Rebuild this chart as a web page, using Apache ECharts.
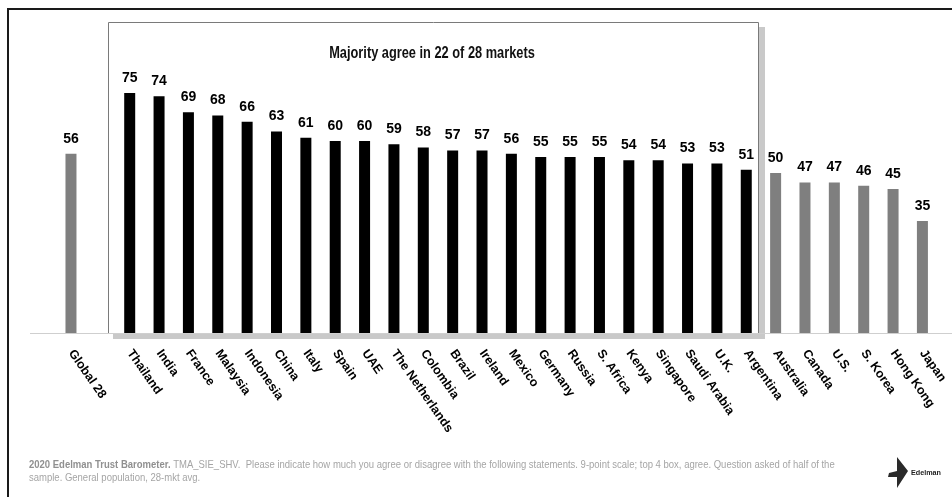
<!DOCTYPE html>
<html><head><meta charset="utf-8">
<script src="https://cdn.jsdelivr.net/npm/echarts@6/dist/echarts.min.js"></script>
<style>html,body{margin:0;padding:0;background:#fff}#c{width:952px;height:497px}</style>
</head><body><div id="c"></div>
<script>
const categories = ['Global 28', '', 'Thailand', 'India', 'France', 'Malaysia', 'Indonesia', 'China', 'Italy', 'Spain', 'UAE', 'The Netherlands', 'Colombia', 'Brazil', 'Ireland', 'Mexico', 'Germany', 'Russia', 'S. Africa', 'Kenya', 'Singapore', 'Saudi Arabia', 'U.K.', 'Argentina', 'Australia', 'Canada', 'U.S.', 'S. Korea', 'Hong Kong', 'Japan'];
const values = [56, null, 75, 74, 69, 68, 66, 63, 61, 60, 60, 59, 58, 57, 57, 56, 55, 55, 55, 54, 54, 53, 53, 51, 50, 47, 47, 46, 45, 35];
const titleText = 'Majority agree in 22 of 28 markets';
const footBold = '2020 Edelman Trust Barometer.';
const footLine1 = ' TMA_SIE_SHV.  Please indicate how much you agree or disagree with the following statements. 9-point scale; top 4 box, agree. Question asked of half of the';
const footLine2 = 'sample. General population, 28-mkt avg.';

const FONT = '"Liberation Sans", Arial, sans-serif';
const chart = echarts.init(document.getElementById('c'), null, {renderer: 'canvas'});

const barData = values.map((v, i) => ({
  value: v,
  itemStyle: {color: (categories[i] !== 'Global 28' && v > 50) ? '#000000' : '#7f7f7f'}
}));

chart.setOption({
  animation: false,
  backgroundColor: '#ffffff',
  grid: {left: 56.3, right: 14.9, top: 13, bottom: 164, containLabel: false},
  xAxis: {
    type: 'category',
    data: categories,
    axisLine: {show: false},
    axisTick: {show: false},
    axisLabel: {interval: 0, rotate: -55, margin: 18, color: '#000', fontWeight: 'bold', fontSize: 12.5, fontFamily: FONT}
  },
  yAxis: {type: 'value', min: 0, max: 100, show: false, splitLine: {show: false}},
  series: [{
    type: 'bar',
    data: barData,
    barWidth: 11,
    z: 5,
    label: {show: true, position: 'top', distance: 8, color: '#000', fontWeight: 'bold', fontSize: 14, fontFamily: FONT}
  }],
  graphic: [
    {type: 'rect', shape: {x: 8, y: 9, width: 1000, height: 600}, style: {fill: 'none', stroke: '#1a1a1a', lineWidth: 2}, z: 1},
    {type: 'rect', shape: {x: 758, y: 27, width: 7, height: 312}, style: {fill: '#c9c9c9'}, z: 1},
    {type: 'rect', shape: {x: 113, y: 333, width: 652, height: 6}, style: {fill: '#c9c9c9'}, z: 1},
    {type: 'rect', shape: {x: 108.5, y: 22.5, width: 650, height: 311}, style: {fill: '#ffffff', stroke: '#7a7a7a', lineWidth: 1}, z: 2},
    {type: 'line', shape: {x1: 30, y1: 333.5, x2: 952, y2: 333.5}, style: {stroke: '#cfcfcf', lineWidth: 1}, z: 3},
    {type: 'text', x: 432, y: 54, scaleX: 0.8, originX: 0, originY: 0, z: 4,
      style: {text: titleText, fill: '#111', font: 'bold 16px ' + FONT, textAlign: 'center', textVerticalAlign: 'middle'}},
    {type: 'text', x: 29, y: 465, scaleX: 0.905, originX: 0, originY: 0, z: 4, style: {
      text: '{b|' + footBold + '}{r|' + footLine1 + '}', textVerticalAlign: 'middle',
      rich: {b: {fontWeight: 'bold', fontSize: 10.5, fill: '#909090', fontFamily: FONT}, r: {fontSize: 10.5, fill: '#a5a5a5', fontFamily: FONT}}
    }},
    {type: 'text', x: 29, y: 478, scaleX: 0.905, originX: 0, originY: 0, z: 4, style: {text: footLine2, fill: '#a5a5a5', font: '10.5px ' + FONT, textVerticalAlign: 'middle'}},
    {type: 'polygon', z: 4, shape: {points: [[897, 457], [908, 471], [897, 488], [897, 477], [888, 477], [889, 473], [897, 471]]}, style: {fill: '#2a2a2a'}},
    {type: 'text', x: 911, y: 473, scaleX: 0.9, originX: 0, originY: 0, z: 4, style: {text: 'Edelman', fill: '#222', font: 'bold 8px ' + FONT, textVerticalAlign: 'middle'}}
  ]
});
</script></body></html>
